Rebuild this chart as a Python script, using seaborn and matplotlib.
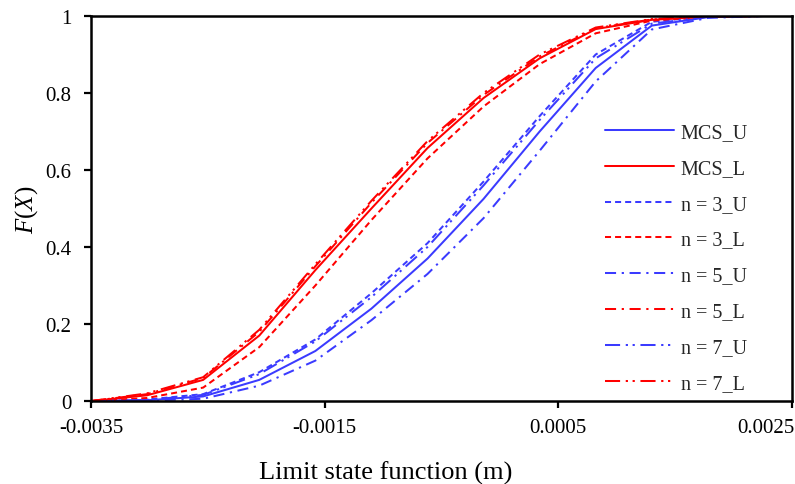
"""CDF of the limit state function: MCS bounds vs. n-point estimates."""

import matplotlib
matplotlib.use("Agg")
import matplotlib.pyplot as plt
import matplotlib.transforms as mtransforms
import pandas as pd
import seaborn as sns

# limit state function values (m)
x_vals = [-0.0035, -0.00302, -0.00254, -0.00206, -0.00158, -0.0011, -0.00062,
          -0.00014, 0.00034, 0.00082, 0.0013, 0.00178, 0.00226, 0.0025]

# F(X), upper bound curves (blue)
mcs_u = [0, 0.002, 0.012, 0.055, 0.13, 0.24, 0.37, 0.525, 0.70, 0.865, 0.975, 0.997, 1, 1]
n3_u = [0, 0.004, 0.018, 0.075, 0.16, 0.28, 0.41, 0.57, 0.74, 0.90, 0.985, 0.999, 1, 1]
n5_u = [0, 0.001, 0.006, 0.04, 0.105, 0.21, 0.33, 0.475, 0.65, 0.83, 0.965, 0.995, 1, 1]
n7_u = [0, 0.003, 0.016, 0.07, 0.155, 0.27, 0.40, 0.56, 0.73, 0.89, 0.98, 0.998, 1, 1]

# F(X), lower bound curves (red)
mcs_l = [0, 0.015, 0.055, 0.17, 0.34, 0.50, 0.657, 0.787, 0.89, 0.966, 0.99, 0.998, 1, 1]
n3_l = [0, 0.008, 0.035, 0.14, 0.30, 0.47, 0.63, 0.765, 0.875, 0.955, 0.988, 0.998, 1, 1]
n5_l = [0, 0.018, 0.06, 0.18, 0.35, 0.515, 0.67, 0.795, 0.895, 0.968, 0.991, 0.999, 1, 1]
n7_l = [0, 0.02, 0.062, 0.185, 0.355, 0.52, 0.675, 0.80, 0.90, 0.97, 0.992, 1, 1, 1]

x_ticks = [-0.0035, -0.0015, 0.0005, 0.0025]
x_ticklabels = ["-0.0035", "-0.0015", "0.0005", "0.0025"]
y_ticks = [0, 0.2, 0.4, 0.6, 0.8, 1]
y_ticklabels = ["0", "0.2", "0.4", "0.6", "0.8", "1"]

BLUE = "#3b3bff"
RED = "#ff0000"
SOLID = "-"
DASH = (0, (3.0, 2.0))
DASHDOT = (0, (5.5, 2.8, 1.1, 2.8))
DASHDOTDOT = (0, (7.5, 2.8, 1.1, 2.3, 1.1, 2.8))

series = [
    ("MCS_U", mcs_u, BLUE, SOLID),
    ("MCS_L", mcs_l, RED, SOLID),
    ("n = 3_U", n3_u, BLUE, DASH),
    ("n = 3_L", n3_l, RED, DASH),
    ("n = 5_U", n5_u, BLUE, DASHDOT),
    ("n = 5_L", n5_l, RED, DASHDOT),
    ("n = 7_U", n7_u, BLUE, DASHDOTDOT),
    ("n = 7_L", n7_l, RED, DASHDOTDOT),
]

sns.set_theme(style="ticks")
plt.rcParams["font.family"] = ["Liberation Serif", "DejaVu Serif"]
plt.rcParams["mathtext.fontset"] = "custom"
plt.rcParams["mathtext.it"] = "Liberation Serif:italic"
plt.rcParams["mathtext.rm"] = "Liberation Serif"

fig = plt.figure(figsize=(7.95, 4.85), dpi=100)
ax = fig.add_axes([0.1145, 0.171, 0.8817, 0.794])

for name, vals, color, ls in series:
    df = pd.DataFrame({"x": x_vals, "F": vals})
    sns.lineplot(data=df, x="x", y="F", ax=ax, color=color, linestyle=ls,
                 linewidth=1.45, label=name, sort=False, estimator=None)

ax.set_xlim(-0.0035, 0.0025)
ax.set_ylim(0, 1)
ax.set_xticks(x_ticks)
ax.set_xticklabels(x_ticklabels)
ax.set_yticks(y_ticks)
ax.set_yticklabels(y_ticklabels)
ax.tick_params(axis="both", labelsize=15, colors="black", length=5, width=1.6,
               direction="out")
ax.tick_params(axis="x", pad=7)
ax.tick_params(axis="y", pad=9)

# last x label sits flush against the right edge, as in the source figure
last = ax.get_xticklabels()[-1]
last.set_horizontalalignment("right")
last.set_transform(last.get_transform()
                   + mtransforms.ScaledTranslation(3 / 100, 0, fig.dpi_scale_trans))

for side in ["left", "right", "top", "bottom"]:
    ax.spines[side].set_visible(True)
    ax.spines[side].set_color("black")
    ax.spines[side].set_linewidth(1.8)

ax.set_xlabel("Limit state function (m)", fontsize=19, color="black")
ax.xaxis.set_label_coords(0.42, -0.155)
ax.set_ylabel("$F$($X$)", fontsize=18, color="black", labelpad=4)

ax.legend(loc="upper left", bbox_to_anchor=(0.722, 0.743), frameon=False,
          fontsize=14.5, handlelength=3.4, labelspacing=0.83, handletextpad=0.35,
          borderaxespad=0)

fig.savefig("out.png", dpi=100)
